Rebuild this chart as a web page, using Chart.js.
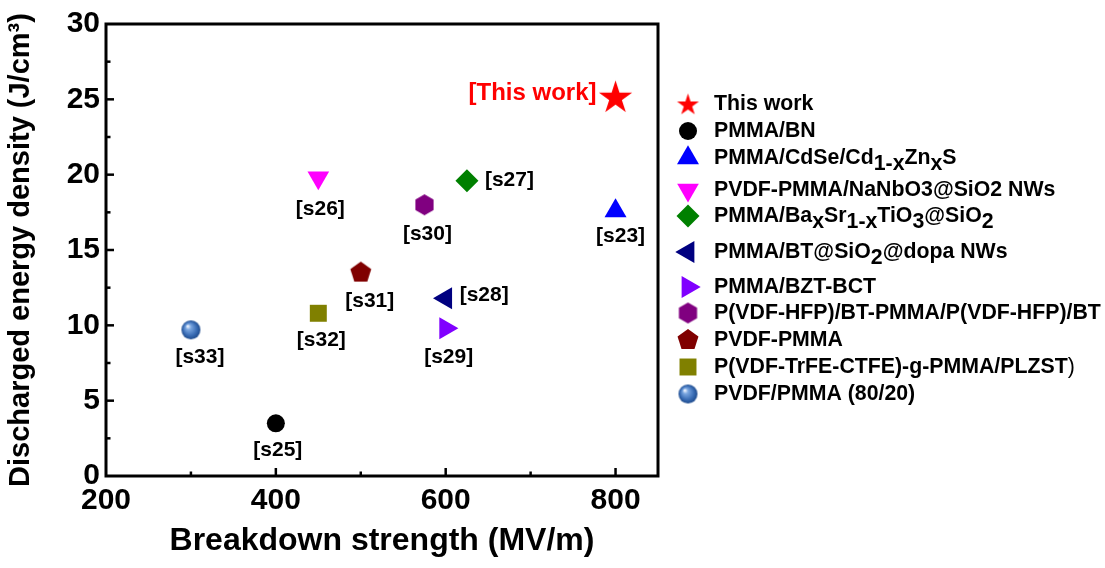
<!DOCTYPE html>
<html>
<head>
<meta charset="utf-8">
<script src="https://cdn.jsdelivr.net/npm/chart.js@4.4.1/dist/chart.umd.min.js"></script>
<style>
  html, body { margin: 0; padding: 0; background: #ffffff; }
  #wrap { width: 1105px; height: 568px; position: relative; }
</style>
</head>
<body>
<div id="wrap"><canvas id="chart" width="1105" height="568"></canvas></div>
<script>
// ---- data ----
const seriesNames = [
  'This work',
  'PMMA/BN',
  'PMMA/CdSe/Cd_{1-x}Zn_{x}S',
  'PVDF-PMMA/NaNbO3@SiO2 NWs',
  'PMMA/Ba_{x}Sr_{1-x}TiO_{3}@SiO_{2}',
  'PMMA/BT@SiO_{2}@dopa NWs',
  'PMMA/BZT-BCT',
  'P(VDF-HFP)/BT-PMMA/P(VDF-HFP)/BT',
  'PVDF-PMMA',
  'P(VDF-TrFE-CTFE)-g-PMMA/PLZST~{)}',
  'PVDF/PMMA (80/20)'
];
const breakdownStrength = [800, 400, 800, 450, 625, 600, 600, 575, 500, 450, 300];
const energyDensity     = [25.2, 3.5, 17.6, 19.8, 19.6, 11.8, 9.8, 18.0, 13.5, 10.8, 9.7];
const refTags = ['[This work]', '[s25]', '[s23]', '[s26]', '[s27]', '[s28]', '[s29]', '[s30]', '[s31]', '[s32]', '[s33]'];
const xTickValues = [200, 400, 600, 800];
const yTickValues = [0, 5, 10, 15, 20, 25, 30];

const FONT = '"Liberation Sans", Arial, Helvetica, sans-serif';

// ---- marker images ----
function polygonImage(sides, R, color) {
  const c = document.createElement('canvas');
  const s = Math.ceil(2 * R + 2);
  c.width = s; c.height = s;
  const g = c.getContext('2d');
  g.fillStyle = color;
  g.beginPath();
  for (let k = 0; k < sides; k++) {
    const a = -Math.PI / 2 + k * 2 * Math.PI / sides;
    const px = s / 2 + R * Math.cos(a), py = s / 2 + R * Math.sin(a);
    k ? g.lineTo(px, py) : g.moveTo(px, py);
  }
  g.closePath();
  g.fill();
  return c;
}
function starImage(R, color) {
  const c = document.createElement('canvas');
  const s = Math.ceil(2 * R + 2);
  c.width = s; c.height = s;
  const g = c.getContext('2d');
  const r = R * 0.382;
  g.fillStyle = color;
  g.beginPath();
  for (let k = 0; k < 10; k++) {
    const a = -Math.PI / 2 + k * Math.PI / 5;
    const rr = k % 2 ? r : R;
    const px = s / 2 + rr * Math.cos(a), py = s / 2 + rr * Math.sin(a) + R * 0.09;
    k ? g.lineTo(px, py) : g.moveTo(px, py);
  }
  g.closePath();
  g.fill();
  return c;
}
function sphereImage(R) {
  const c = document.createElement('canvas');
  const s = Math.ceil(2 * R + 2);
  c.width = s; c.height = s;
  const g = c.getContext('2d');
  const cx = s / 2, cy = s / 2;
  const grad = g.createRadialGradient(cx - R * 0.35, cy - R * 0.4, R * 0.05, cx, cy, R);
  grad.addColorStop(0, '#f2f6ff');
  grad.addColorStop(0.25, '#7aa6e0');
  grad.addColorStop(0.7, '#3a6db5');
  grad.addColorStop(1, '#1d4a8c');
  g.fillStyle = grad;
  g.beginPath();
  g.arc(cx, cy, R, 0, Math.PI * 2);
  g.fill();
  return c;
}

const markerStyles = [
  { pointStyle: starImage(17.5, '#ff0000'), legendStyle: starImage(11.5, '#ff0000'), radius: 17 },
  { pointStyle: 'circle', radius: 9, color: '#000000' },
  { pointStyle: 'triangle', radius: 12.7, color: '#0000ff' },
  { pointStyle: 'triangle', rotation: 180, radius: 12.5, color: '#ff00ff' },
  { pointStyle: 'rectRot', radius: 11.5, color: '#008000' },
  { pointStyle: 'triangle', rotation: -90, radius: 12.7, color: '#000080' },
  { pointStyle: 'triangle', rotation: 90, radius: 12.7, color: '#8000ff' },
  { pointStyle: polygonImage(6, 10.5, '#800080'), radius: 10 },
  { pointStyle: polygonImage(5, 11, '#800000'), radius: 11 },
  { pointStyle: 'rect', radius: 12, color: '#808000' },
  { pointStyle: sphereImage(9.5), radius: 9 }
];

const datasets = seriesNames.map((name, i) => {
  const m = markerStyles[i];
  return {
    label: name,
    data: [{ x: breakdownStrength[i], y: energyDensity[i] }],
    pointStyle: m.pointStyle,
    pointRadius: m.radius,
    pointRotation: m.rotation || 0,
    backgroundColor: m.color || '#000',
    borderColor: m.color || '#000',
    borderWidth: 0,
    showLine: false
  };
});

// ---- helpers ----
function drawRichText(ctx, text, x, y, size) {
  const parts = text.split(/(_\{[^}]*\}|~\{[^}]*\})/).filter(s => s);
  let cx = x;
  for (const p of parts) {
    let t = p, dy = 0, weight = 'bold';
    if (p.startsWith('_{')) { t = p.slice(2, -1); dy = size * 0.28; }
    else if (p.startsWith('~{')) { t = p.slice(2, -1); weight = 'normal'; }
    ctx.font = `${weight} ${size}px ${FONT}`;
    ctx.fillText(t, cx, y + dy);
    cx += ctx.measureText(t).width;
  }
}

// frame + inward tick marks
const framePlugin = {
  id: 'frame',
  afterDraw(chart) {
    const { ctx, chartArea: a, scales: { x, y } } = chart;
    ctx.save();
    ctx.strokeStyle = '#000';
    ctx.lineWidth = 2.5;
    ctx.lineCap = 'butt';
    const xs = [];
    for (let k = 0; k < xTickValues.length; k++) {
      xs.push([xTickValues[k], 8]);
      if (k < xTickValues.length - 1) xs.push([(xTickValues[k] + xTickValues[k + 1]) / 2, 4.5]);
    }
    for (const [v, len] of xs) {
      if (v <= x.min || v >= x.max) continue;
      const px = x.getPixelForValue(v);
      ctx.beginPath(); ctx.moveTo(px, a.bottom); ctx.lineTo(px, a.bottom - len); ctx.stroke();
    }
    const ys = [];
    for (let k = 0; k < yTickValues.length; k++) {
      ys.push([yTickValues[k], 8]);
      if (k < yTickValues.length - 1) ys.push([(yTickValues[k] + yTickValues[k + 1]) / 2, 4.5]);
    }
    for (const [v, len] of ys) {
      if (v <= y.min || v >= y.max) continue;
      const py = y.getPixelForValue(v);
      ctx.beginPath(); ctx.moveTo(a.left, py); ctx.lineTo(a.left + len, py); ctx.stroke();
    }
    ctx.lineWidth = 3;
    ctx.strokeRect(a.left, a.top, a.right - a.left, a.bottom - a.top);
    ctx.restore();
  }
};

// reference tags next to each point
const tagLayout = [
  { dx: -19, dy: -3, align: 'right', color: '#ff0000', size: 24 },
  { dx: 2, dy: 27 },
  { dx: 5, dy: 25 },
  { dx: 2, dy: 32 },
  { dx: 18, dy: 0, align: 'left' },
  { dx: 14, dy: -3, align: 'left' },
  { dx: 3, dy: 29 },
  { dx: 3, dy: 29 },
  { dx: 9, dy: 29 },
  { dx: 3, dy: 27 },
  { dx: 9, dy: 27 }
];
const tagPlugin = {
  id: 'tags',
  afterDatasetsDraw(chart) {
    const ctx = chart.ctx;
    ctx.save();
    ctx.textBaseline = 'middle';
    refTags.forEach((tag, i) => {
      const el = chart.getDatasetMeta(i).data[0];
      const l = tagLayout[i];
      ctx.fillStyle = l.color || '#000';
      ctx.textAlign = l.align || 'center';
      ctx.font = `bold ${l.size || 21}px ${FONT}`;
      ctx.fillText(tag, el.x + l.dx, el.y + l.dy);
    });
    ctx.restore();
  }
};

// legend with sub-scripted names
const legendRows = [104, 131, 158, 190, 216, 252, 287, 313, 340, 367, 394];
const legendPlugin = {
  id: 'richLegend',
  afterDraw(chart) {
    const ctx = chart.ctx;
    ctx.save();
    chart.data.datasets.forEach((ds, i) => {
      const m = markerStyles[i];
      const y = legendRows[i];
      ctx.fillStyle = ds.backgroundColor;
      ctx.strokeStyle = ds.borderColor;
      ctx.lineWidth = 0.01;
      Chart.helpers.drawPoint(ctx, {
        pointStyle: m.legendStyle || m.pointStyle,
        radius: m.radius,
        rotation: m.rotation || 0,
        borderWidth: 0
      }, 688, y);
      ctx.fillStyle = '#000';
      ctx.textAlign = 'left';
      ctx.textBaseline = 'middle';
      drawRichText(ctx, ds.label, 714, y, 21.3);
    });
    ctx.restore();
  }
};

new Chart(document.getElementById('chart'), {
  type: 'scatter',
  data: { datasets },
  options: {
    responsive: false,
    animation: false,
    events: [],
    layout: { padding: { top: 24, right: 447, left: 0, bottom: 0 } },
    plugins: { legend: { display: false }, tooltip: { enabled: false } },
    scales: {
      x: {
        type: 'linear', position: 'bottom', min: 200, max: 850,
        afterFit(s) { s.height = 92; },
        afterBuildTicks(s) { s.ticks = xTickValues.map(v => ({ value: v })); },
        grid: { display: false, drawTicks: false },
        border: { display: false },
        ticks: { padding: 7, color: '#000', font: { family: FONT, size: 30, weight: 'bold' }, maxRotation: 0 },
        title: {
          display: true, text: 'Breakdown strength (MV/m)', color: '#000',
          font: { family: FONT, size: 32, weight: 'bold' }, padding: { top: 0, bottom: 8 }
        }
      },
      y: {
        type: 'linear', position: 'left', min: 0, max: 30,
        afterFit(s) { s.width = 106; },
        afterBuildTicks(s) { s.ticks = yTickValues.map(v => ({ value: v })); },
        grid: { display: false, drawTicks: false },
        border: { display: false },
        ticks: { padding: 6, color: '#000', font: { family: FONT, size: 30, weight: 'bold' } },
        title: {
          display: true, text: 'Discharged energy density (J/cm\u00B3)', color: '#000',
          font: { family: FONT, size: 29, weight: 'bold' }, padding: { top: 4, bottom: 0 }
        }
      }
    }
  },
  plugins: [framePlugin, tagPlugin, legendPlugin]
});
</script>
</body>
</html>
